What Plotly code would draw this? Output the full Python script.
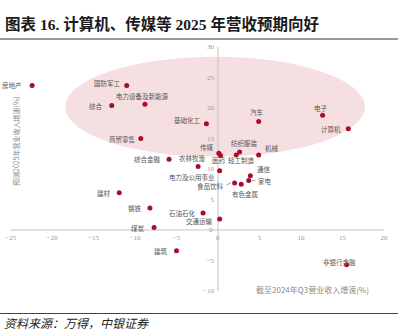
import plotly.graph_objects as go

# ---------------- data ----------------
sectors = ["房地产", "国防军工", "电力设备及新能源", "综合", "基础化工", "商贸零售",
           "综合金融", "农林牧渔", "汽车", "电子", "计算机", "传媒", "医药",
           "纺织服装", "轻工制造", "机械", "电力及公用事业", "通信", "家电",
           "食品饮料", "有色金属", "石油石化", "交通运输", "建材", "钢铁",
           "煤炭", "建筑", "非银行金融"]
growth_q3_2024 = [-22.4, -11.0, -8.8, -12.8, -1.4, -9.3, -5.9, -2.4, 4.9, 12.6, 15.7,
                  0.1, 0.3, 2.6, 2.2, 4.9, 0.2, 3.9, 3.7, 2.0, 2.8, -1.8, 0.2,
                  -11.9, -8.2, -7.7, -5.0, 15.5]
growth_2025_forecast = [23.7, 23.7, 20.6, 20.4, 17.4, 15.0, 11.6, 10.4, 17.8, 18.8, 16.6,
                        12.6, 12.2, 12.8, 12.3, 12.3, 9.7, 8.9, 8.1, 7.7, 7.5, 2.8, 1.8,
                        6.1, 3.6, 0.4, -3.4, -5.7]
x_ticks = [-25, -20, -15, -10, -5, 0, 5, 10, 15, 20]
y_ticks = [-10, -5, 0, 5, 10, 15, 20, 25, 30]
origin_label = "0"

title_text = "图表 16. 计算机、传媒等 2025 年营收预期向好"
x_title = "截至2024年Q3营业收入增速(%)"
y_title = "预测2025年营业收入增速(%)"
source_text = "资料来源：万得，中银证券"

# ---------------- style / layout ----------------
label_layout = {  # sector: (xanchor, dx px, dy px screen-down)
    "房地产": ("right", -8, 0), "国防军工": ("right", -4, -2),
    "电力设备及新能源": ("center", -2, -8.5), "综合": ("right", -6.5, 0),
    "基础化工": ("right", -3, -4), "商贸零售": ("right", -4, 0.5),
    "综合金融": ("right", -6.3, 0), "农林牧渔": ("center", -5.7, -8.7),
    "汽车": ("center", -1.2, -9.3), "电子": ("center", -1.2, -7.5),
    "计算机": ("right", -5.7, 0), "传媒": ("right", -3, -6.6),
    "医药": ("center", -1, 4.5), "纺织服装": ("center", 5.2, -8.7),
    "轻工制造": ("center", 5, 5), "机械": ("left", 4.7, -6.7),
    "电力及公用事业": ("right", -2.7, 6), "通信": ("left", 4.3, -6.7),
    "家电": ("left", 7.5, 0), "食品饮料": ("right", -8.6, 3.4),
    "有色金属": ("center", 3.7, 10.2), "石油石化": ("right", -4.7, 0),
    "交通运输": ("right", -4.3, 2), "建材": ("right", -6.3, 0),
    "钢铁": ("right", -6.3, 0), "煤炭": ("right", -7, 0),
    "建筑": ("right", -6.3, 0), "非银行金融": ("center", -7.2, -2.3),
}
leaders = {  # sector: (x0, y0, x1, y1) pixel offsets, y up
    "食品饮料": (-8, -2, -3.5, 0.5),
    "家电": (3, 0, 6.5, 0),
}

CJK = "Noto Sans CJK SC"
SERIF = "Liberation Serif, Noto Sans CJK SC"
W, H = 406, 336
ML, MR, MT, MB = 0, 0, 40, 31
PX_PER_X, PX_PER_Y = 8.3, 6.1
X0_PX, Y0_PX = 218, 230
plot_h = H - MT - MB
x_range = [-X0_PX / PX_PER_X, (W - X0_PX) / PX_PER_X]
y_range = [-(H - MB - Y0_PX) / PX_PER_Y, (Y0_PX - MT) / PX_PER_Y]
x_cross = (0 - x_range[0]) / (x_range[1] - x_range[0])
y_cross = (0 - y_range[0]) / (y_range[1] - y_range[0])


def py(p):  # pixel y -> paper y
    return (H - MB - p) / plot_h


fig = go.Figure()

fig.add_trace(go.Scatter(
    x=growth_q3_2024, y=growth_2025_forecast, mode="markers",
    marker=dict(color="#a80d2a", size=5, line=dict(width=0)),
    text=sectors, hoverinfo="text", showlegend=False,
))
# empty trace that binds the crossing (tick-label) axes
fig.add_trace(go.Scatter(x=[], y=[], xaxis="x2", yaxis="y2", showlegend=False,
                         hoverinfo="skip"))

shapes = [
    dict(type="circle", xref="x", yref="y", x0=-18.4, x1=17.7, y0=12.0, y1=28.4,
         fillcolor="#f6dfe0", line=dict(width=0), layer="below"),
    dict(type="line", xref="x", yref="y", x0=x_ticks[0], x1=x_ticks[-1], y0=0, y1=0,
         line=dict(color="#c4c4c4", width=1), layer="below"),
    dict(type="line", xref="x", yref="y", x0=0, x1=0, y0=y_ticks[0], y1=y_ticks[-1],
         line=dict(color="#c4c4c4", width=1), layer="below"),
    dict(type="line", xref="paper", yref="paper", x0=0, x1=0.98, y0=py(39), y1=py(39),
         line=dict(color="#9a9a9a", width=2)),
    dict(type="line", xref="paper", yref="paper", x0=0, x1=0.98, y0=py(313.5), y1=py(313.5),
         line=dict(color="#444444", width=1)),
]

annotations = []
for name, xv, yv in zip(sectors, growth_q3_2024, growth_2025_forecast):
    anchor, dx, dy = label_layout[name]
    annotations.append(dict(
        x=xv, y=yv, xref="x", yref="y", text=name, showarrow=False,
        xanchor=anchor, yanchor="middle", xshift=dx, yshift=-dy,
        font=dict(family=CJK, size=6.5, color="#555555"),
    ))
    if name in leaders:
        a, b, c, d = leaders[name]
        shapes.append(dict(type="line", xref="x", yref="y", xsizemode="pixel",
                           ysizemode="pixel", xanchor=xv, yanchor=yv,
                           x0=a, y0=b, x1=c, y1=d,
                           line=dict(color="#777777", width=0.7)))

tickfont = dict(family=SERIF, size=7, color="#999999")
# plotly suppresses the "0" tick where the two crossing axes meet: draw both here
annotations += [
    dict(x=0, y=0, xref="x", yref="y", text=origin_label, showarrow=False,
         xanchor="right", yanchor="middle", xshift=-4, borderpad=0, font=tickfont),
    dict(x=0, y=0, xref="x", yref="y", text=origin_label, showarrow=False,
         xanchor="center", yanchor="top", yshift=-3, borderpad=0, font=tickfont),
]

annotations += [
    dict(x=16 / W, y=py(141), xref="paper", yref="paper", text=y_title, showarrow=False,
         textangle=-90, xanchor="center", yanchor="middle",
         font=dict(family=CJK, size=7, color="#8a8a8a")),
    dict(x=312 / W, y=py(289), xref="paper", yref="paper", text=x_title, showarrow=False,
         xanchor="center", yanchor="middle",
         font=dict(family=CJK, size=8, color="#8a8a8a")),
    dict(x=3 / W, y=py(24.5), xref="paper", yref="paper", text=f"<b>{title_text}</b>",
         showarrow=False, xanchor="left", yanchor="middle",
         font=dict(family=SERIF, size=15.5, color="#1a1a1a")),
    dict(x=2 / W, y=py(322), xref="paper", yref="paper", text=f"<i>{source_text}</i>",
         showarrow=False, xanchor="left", yanchor="middle",
         font=dict(family=CJK, size=12, color="#222222")),
]

hidden = dict(showgrid=False, zeroline=False, showline=False, showticklabels=False,
              ticks="", fixedrange=True)
fig.update_layout(
    width=W, height=H, margin=dict(l=ML, r=MR, t=MT, b=MB),
    paper_bgcolor="white", plot_bgcolor="white",
    xaxis=dict(range=x_range, **hidden),
    yaxis=dict(range=y_range, **hidden),
    xaxis2=dict(range=x_range, tickvals=[v for v in x_ticks if v != 0], overlaying="x",
                anchor="free", position=y_cross, side="bottom", showgrid=False,
                zeroline=False, showline=False, ticks="", ticklabelstandoff=2,
                tickfont=tickfont, fixedrange=True),
    yaxis2=dict(range=y_range, tickvals=[v for v in y_ticks if v != 0], overlaying="y",
                anchor="free", position=x_cross, side="left", showgrid=False,
                zeroline=False, showline=False, ticks="", ticklabelstandoff=4,
                tickfont=tickfont, fixedrange=True),
    shapes=shapes, annotations=annotations, showlegend=False,
)

fig.write_html("out.html", config={"displayModeBar": False})
